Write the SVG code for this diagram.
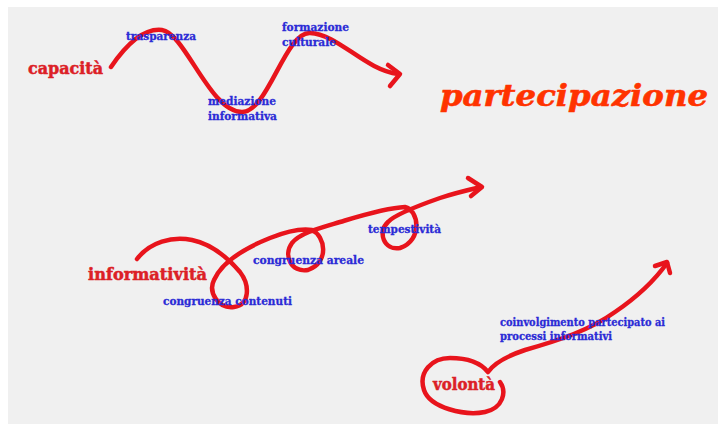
<svg xmlns="http://www.w3.org/2000/svg" width="720" height="428" viewBox="0 0 720 428">
<style>
.bg{fill:#f0f0f0}
.c{fill:none;stroke:#e8141c;stroke-width:4.5;stroke-linecap:round;stroke-linejoin:round}
.big{font-family:"DejaVu Serif","Liberation Serif",serif;font-weight:bold;font-size:16px;fill:#dc2026;stroke:#dc2026;stroke-width:0.5}
.lbl{font-family:"DejaVu Serif","Liberation Serif",serif;font-weight:bold;font-size:10.5px;fill:#2b2bd6;stroke:#2b2bd6;stroke-width:0.3}
.title{font-family:"DejaVu Serif","Liberation Serif",serif;font-weight:bold;font-style:italic;font-size:30px;fill:#ff3300;stroke:#ff3300;stroke-width:0.6}
</style>
<rect width="720" height="428" fill="#ffffff"/>
<rect class="bg" x="8" y="7" width="710" height="417"/>
<g id="connectors">
<path class="c" d="M111,67 C128,42 145,28 162,30 C185,33 210,112 242,112 C268,112 285,32 310,33 C338,34 365,70 398,74"/>
<path class="c" d="M388,65 L400,74 L390,86"/>
<path class="c" d="M137,259 C150,242 172,236 192,240 C212,244 228,258 240,272 C250,285 250,305 234,307 C218,309 208,292 214,280 C222,262 245,248 270,238 C285,232 300,228 312,230 C325,236 330,262 308,270 C291,273 283,255 292,243 C300,233 320,228 340,222 C360,216 385,208 405,207 C419,210 423,240 400,248 C384,251 377,232 388,222 C395,214 420,205 440,198 C455,193 468,190 481,187"/>
<path class="c" d="M468,178 L482,187 L471,196"/>
<path class="c" d="M500,382 C507,392 503,408 485,412 C465,416 430,408 424,390 C418,372 432,358 450,358 C465,358 480,362 488,372 C495,362 510,355 525,350 C560,340 590,330 615,312 C640,295 655,280 667,263"/>
<path class="c" d="M655,266 L667,262 L670,273"/>
</g>
<g id="capacita"><text class="big" x="28" y="74" textLength="75" lengthAdjust="spacingAndGlyphs">capacità</text></g>
<g id="trasparenza"><text class="lbl" x="126" y="40" textLength="70" lengthAdjust="spacingAndGlyphs">trasparenza</text></g>
<g id="mediazione"><text class="lbl" x="208" y="105" textLength="68" lengthAdjust="spacingAndGlyphs">mediazione</text><text class="lbl" x="208" y="120" textLength="69" lengthAdjust="spacingAndGlyphs">informativa</text></g>
<g id="formazione"><text class="lbl" x="282" y="31" textLength="67" lengthAdjust="spacingAndGlyphs">formazione</text><text class="lbl" x="282" y="46" textLength="54" lengthAdjust="spacingAndGlyphs">culturale</text></g>
<g id="partecipazione"><text class="title" x="440" y="106" textLength="268" lengthAdjust="spacingAndGlyphs">partecipazione</text></g>
<g id="informativita"><text class="big" x="88" y="280" textLength="119" lengthAdjust="spacingAndGlyphs">informatività</text></g>
<g id="congruenza-contenuti"><text class="lbl" x="163" y="305" textLength="129" lengthAdjust="spacingAndGlyphs">congruenza contenuti</text></g>
<g id="congruenza-areale"><text class="lbl" x="253" y="264" textLength="111" lengthAdjust="spacingAndGlyphs">congruenza areale</text></g>
<g id="tempestivita"><text class="lbl" x="368" y="233" textLength="73" lengthAdjust="spacingAndGlyphs">tempestività</text></g>
<g id="volonta"><text class="big" x="433" y="390" textLength="62" lengthAdjust="spacingAndGlyphs">volontà</text></g>
<g id="coinvolgimento"><text class="lbl" x="500" y="326" textLength="165" lengthAdjust="spacingAndGlyphs">coinvolgimento partecipato ai</text><text class="lbl" x="500" y="340" textLength="112" lengthAdjust="spacingAndGlyphs">processi informativi</text></g>
</svg>
